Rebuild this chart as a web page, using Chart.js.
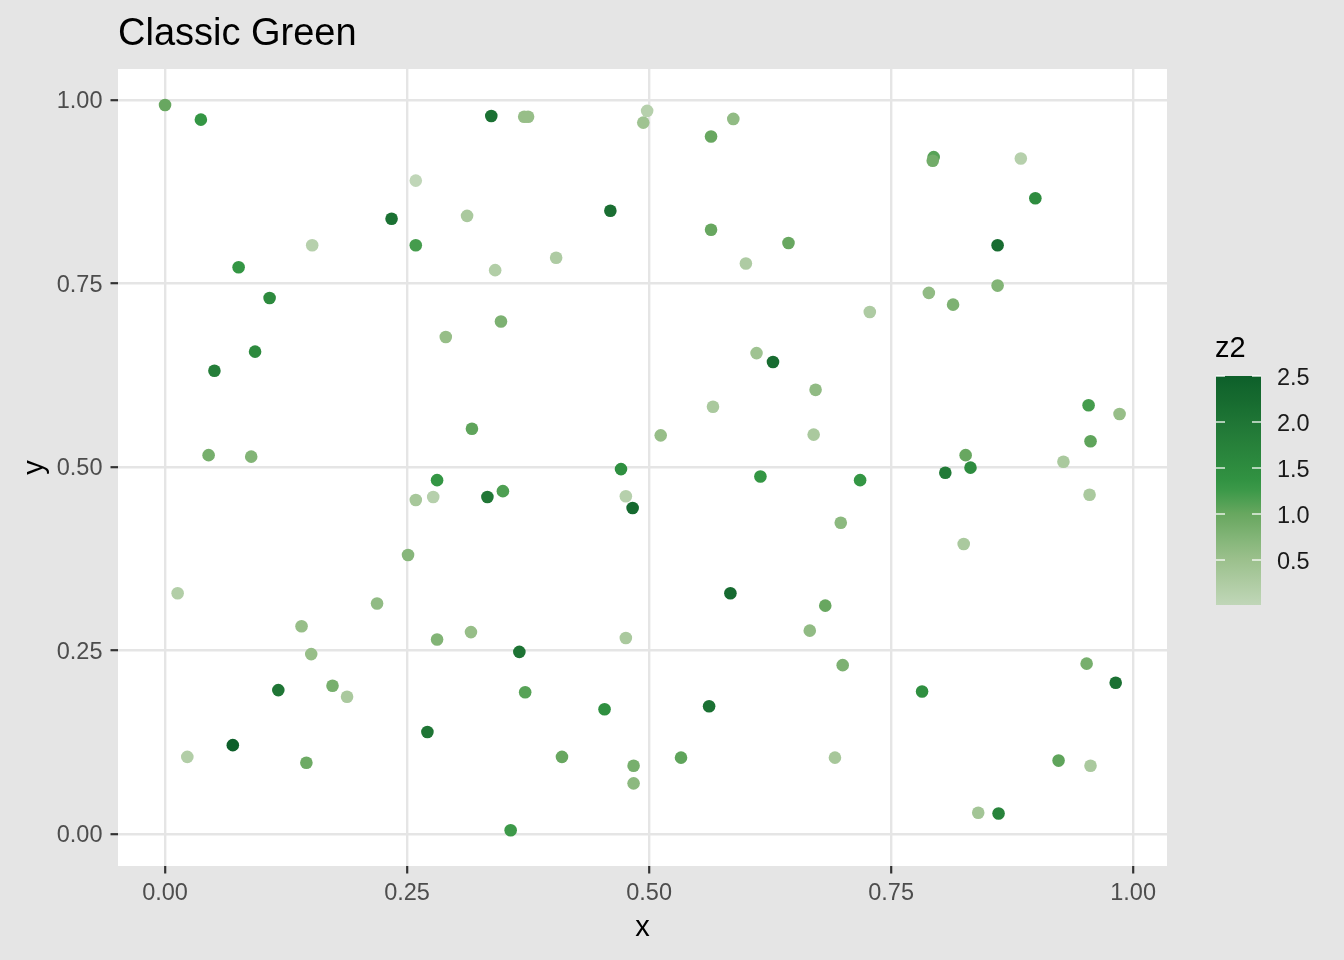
<!DOCTYPE html>
<html>
<head>
<meta charset="utf-8">
<script src="https://cdn.jsdelivr.net/npm/chart.js@4/dist/chart.umd.min.js"></script>
<style>
  body { margin: 0; background: #e5e5e5; }
  #wrap { width: 1344px; height: 960px; }
</style>
</head>
<body>
<div id="wrap"><canvas id="chart" width="1344" height="960"></canvas></div>
<script>
// data
var xs = [0.000, 0.037, 0.337, 0.371, 0.375, 0.498, 0.494, 0.564, 0.587, 0.794,
          0.793, 0.884, 0.899, 0.860, 0.860, 0.789, 0.814, 0.728, 0.460, 0.564,
          0.644, 0.600, 0.404, 0.341, 0.312, 0.259, 0.234, 0.259, 0.152, 0.076,
          0.108, 0.093, 0.051, 0.290, 0.347, 0.045, 0.089, 0.317, 0.281, 0.259,
          0.277, 0.333, 0.349, 0.251, 0.013, 0.471, 0.476, 0.483, 0.512, 0.566,
          0.611, 0.628, 0.672, 0.670, 0.615, 0.718, 0.698, 0.584, 0.806, 0.827,
          0.832, 0.928, 0.825, 0.954, 0.956, 0.986, 0.955, 0.141, 0.151, 0.117,
          0.173, 0.188, 0.219, 0.070, 0.023, 0.146, 0.281, 0.316, 0.271, 0.366,
          0.372, 0.410, 0.357, 0.454, 0.476, 0.484, 0.484, 0.533, 0.562, 0.666,
          0.682, 0.700, 0.692, 0.782, 0.923, 0.956, 0.952, 0.982, 0.840, 0.861];
var ys = [0.993, 0.973, 0.978, 0.977, 0.977, 0.985, 0.969, 0.950, 0.974, 0.922,
          0.917, 0.920, 0.866, 0.802, 0.747, 0.737, 0.721, 0.711, 0.849, 0.823,
          0.805, 0.777, 0.785, 0.768, 0.842, 0.890, 0.838, 0.802, 0.802, 0.772,
          0.730, 0.657, 0.631, 0.677, 0.698, 0.516, 0.514, 0.552, 0.482, 0.455,
          0.459, 0.459, 0.467, 0.380, 0.328, 0.497, 0.460, 0.444, 0.543, 0.582,
          0.655, 0.643, 0.605, 0.544, 0.487, 0.482, 0.424, 0.328, 0.492, 0.516,
          0.499, 0.507, 0.395, 0.584, 0.535, 0.572, 0.462, 0.283, 0.245, 0.196,
          0.202, 0.187, 0.314, 0.121, 0.105, 0.097, 0.265, 0.275, 0.139, 0.248,
          0.193, 0.105, 0.005, 0.170, 0.267, 0.093, 0.069, 0.104, 0.174, 0.277,
          0.311, 0.230, 0.104, 0.194, 0.100, 0.093, 0.232, 0.206, 0.029, 0.028];
var z2 = [1.00, 1.30, 2.10, 0.55, 0.55, 0.15, 0.45, 1.00, 0.60, 1.10,
          0.90, 0.15, 1.50, 2.20, 0.75, 0.60, 0.80, 0.25, 2.15, 1.00,
          1.00, 0.25, 0.25, 0.20, 0.30, 0.01, 2.10, 1.20, 0.15, 1.30,
          1.55, 1.55, 1.80, 0.55, 0.80, 0.85, 0.75, 1.05, 1.30, 0.35,
          0.15, 1.95, 1.15, 0.70, 0.20, 1.45, 0.15, 2.25, 0.55, 0.30,
          0.45, 2.20, 0.60, 0.30, 1.30, 1.30, 0.65, 2.25, 1.90, 1.00,
          1.50, 0.30, 0.30, 1.20, 1.05, 0.55, 0.30, 0.55, 0.55, 2.00,
          0.85, 0.30, 0.60, 2.50, 0.20, 0.95, 0.75, 0.55, 2.00, 2.05,
          1.10, 1.00, 1.25, 1.45, 0.30, 0.85, 0.65, 1.05, 2.10, 0.60,
          1.00, 0.80, 0.35, 1.45, 1.05, 0.30, 0.85, 2.10, 0.40, 1.70];

var xTicks = [0, 0.25, 0.5, 0.75, 1];
var xTickLabels = ['0.00', '0.25', '0.50', '0.75', '1.00'];
var yTicks = [0, 0.25, 0.5, 0.75, 1];
var yTickLabels = ['0.00', '0.25', '0.50', '0.75', '1.00'];
var legendTicks = [0.5, 1.0, 1.5, 2.0, 2.5];
var legendTickLabels = ['0.5', '1.0', '1.5', '2.0', '2.5'];

// green ramp, light for low z2, dark for high
var rampPos = [0, 0.2, 0.4, 0.52, 0.6, 0.8, 1];
var rampCol = [[192, 214, 184], [155, 192, 140], [103, 167, 95], [51, 150, 68],
               [46, 140, 63], [31, 117, 53], [13, 95, 42]];
var zMin = Math.min.apply(null, z2);
var zMax = Math.max.apply(null, z2);

function colorFor(v) {
  var t = (v - zMin) / (zMax - zMin);
  t = Math.max(0, Math.min(1, t));
  for (var i = 1; i < rampPos.length; i++) {
    if (t <= rampPos[i]) {
      var f = (t - rampPos[i - 1]) / (rampPos[i] - rampPos[i - 1]);
      var a = rampCol[i - 1], b = rampCol[i];
      return 'rgb(' + Math.round(a[0] + (b[0] - a[0]) * f) + ',' +
        Math.round(a[1] + (b[1] - a[1]) * f) + ',' +
        Math.round(a[2] + (b[2] - a[2]) * f) + ')';
    }
  }
  return 'rgb(13,95,42)';
}

var points = xs.map(function (x, i) { return { x: x, y: ys[i] }; });

// grey page + white panel
var panelBg = {
  id: 'panelBg',
  beforeDraw: function (chart) {
    var c = chart.ctx, a = chart.chartArea;
    c.save();
    c.fillStyle = '#e5e5e5';
    c.fillRect(0, 0, chart.width, chart.height);
    c.fillStyle = '#ffffff';
    c.fillRect(a.left, a.top, a.right - a.left, a.bottom - a.top);
    c.restore();
  }
};

// colour bar legend on the right
var colorBar = {
  id: 'colorBar',
  afterDraw: function (chart) {
    var c = chart.ctx;
    var left = 1216, w = 45, top = 376, bottom = 605;
    var yOf = function (v) { return bottom - (v - zMin) / (zMax - zMin) * (bottom - top); };
    c.save();
    var g = c.createLinearGradient(0, bottom, 0, top);
    for (var k = 0; k <= 20; k++) {
      g.addColorStop(k / 20, colorFor(zMin + (zMax - zMin) * k / 20));
    }
    c.fillStyle = g;
    c.fillRect(left, top, w, bottom - top);
    c.strokeStyle = 'rgba(255,255,255,0.85)';
    c.lineWidth = 1.5;
    c.font = '23.5px "Liberation Sans", Arial, sans-serif';
    c.fillStyle = '#1a1a1a';
    c.textAlign = 'left';
    c.textBaseline = 'middle';
    legendTicks.forEach(function (v, i) {
      var y = yOf(v);
      c.beginPath();
      c.moveTo(left, y); c.lineTo(left + 9, y);
      c.moveTo(left + w - 9, y); c.lineTo(left + w, y);
      c.stroke();
      c.fillText(legendTickLabels[i], 1277, y + 2.5);
    });
    c.font = '29px "Liberation Sans", Arial, sans-serif';
    c.fillStyle = '#000000';
    c.fillText('z2', 1215, 349);
    c.restore();
  }
};

var tickFont = { family: '"Liberation Sans", Arial, sans-serif', size: 23.5 };
var titleFont = { family: '"Liberation Sans", Arial, sans-serif', size: 29 };

new Chart(document.getElementById('chart').getContext('2d'), {
  type: 'scatter',
  data: {
    datasets: [{
      label: 'z2',
      data: points,
      backgroundColor: function (ctx) { return colorFor(z2[ctx.dataIndex]); },
      borderWidth: 0,
      pointRadius: 6.3,
      pointHoverRadius: 6.3
    }]
  },
  options: {
    responsive: false,
    devicePixelRatio: 1,
    animation: false,
    events: [],
    layout: { padding: { left: 0, right: 177, top: 0, bottom: 0 } },
    plugins: {
      legend: { display: false },
      tooltip: { enabled: false },
      title: {
        display: true,
        text: 'Classic Green',
        align: 'start',
        fullSize: false,
        color: '#000000',
        font: { family: '"Liberation Sans", Arial, sans-serif', size: 38, weight: 'normal' },
        padding: { top: 11.5, bottom: 11.9 }
      }
    },
    scales: {
      x: {
        type: 'linear',
        min: -0.0486,
        max: 1.035,
        afterFit: function (s) { s.height = 94; },
        afterBuildTicks: function (s) { s.ticks = xTicks.map(function (v) { return { value: v }; }); },
        ticks: {
          color: '#4d4d4d',
          font: tickFont,
          padding: 5.5,
          maxRotation: 0,
          callback: function (v) { return xTickLabels[xTicks.indexOf(v)]; }
        },
        grid: { color: '#e5e5e5', lineWidth: 2.4, tickColor: '#333333', tickLength: 7.5, tickWidth: 2.2 },
        border: { display: false },
        title: { display: true, text: 'x', color: '#000000', font: titleFont, padding: { top: 0, bottom: 14.6 } }
      },
      y: {
        type: 'linear',
        min: -0.0436,
        max: 1.042,
        afterFit: function (s) { s.width = 118; },
        afterBuildTicks: function (s) { s.ticks = yTicks.map(function (v) { return { value: v }; }); },
        ticks: {
          color: '#4d4d4d',
          font: tickFont,
          padding: 8,
          labelOffset: 2,
          callback: function (v) { return yTickLabels[yTicks.indexOf(v)]; }
        },
        grid: { color: '#e5e5e5', lineWidth: 2.4, tickColor: '#333333', tickLength: 7.5, tickWidth: 2.2 },
        border: { display: false },
        title: { display: true, text: 'y', color: '#000000', font: titleFont, padding: { top: 18, bottom: 0 } }
      }
    }
  },
  plugins: [panelBg, colorBar]
});
</script>
</body>
</html>
